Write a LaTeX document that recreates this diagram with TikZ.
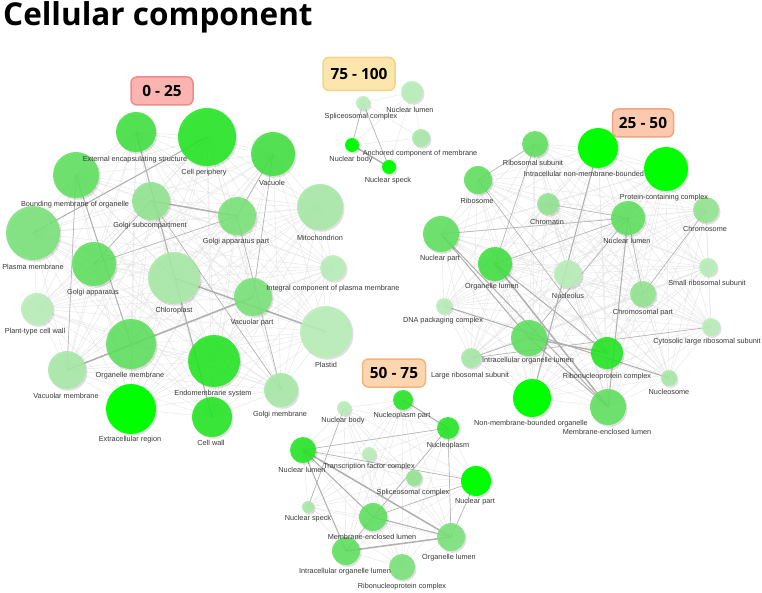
\documentclass[tikz,border=0pt]{standalone}
\usepackage{fontspec}
\setmainfont{Liberation Sans}
\newfontfamily\notosans{Open Sans}
\pgfdeclarelayer{bg}\pgfdeclarelayer{shad}\pgfdeclarelayer{fg}
\pgfsetlayers{bg,shad,main,fg}
\definecolor{gP}{HTML}{00FF00}
\definecolor{gA}{HTML}{22E622}
\definecolor{gB}{HTML}{40E040}
\definecolor{gC}{HTML}{5EE05E}
\definecolor{gD}{HTML}{78E278}
\definecolor{gE}{HTML}{90E590}
\definecolor{gF}{HTML}{A6E9A6}
\definecolor{gG}{HTML}{B8EEB8}
\definecolor{boxAf}{HTML}{FBB4B0}\definecolor{boxAd}{HTML}{F08C88}
\definecolor{boxBf}{HTML}{FDE6AE}\definecolor{boxBd}{HTML}{F4D38A}
\definecolor{boxCf}{HTML}{FCC8AE}\definecolor{boxCd}{HTML}{F4A47E}
\definecolor{boxDf}{HTML}{FDD6B0}\definecolor{boxDd}{HTML}{F4B47C}
\tikzset{
 gc/.style={circle, inner sep=0pt, draw=none, fill opacity=.88},
 gl/.style={inner sep=0pt, text=black!78, font=\fontsize{7.3}{8}\selectfont},
 e0/.style={draw=gray!22, line width=.35pt},
 e1/.style={draw=gray!60, line width=.6pt},
 e2/.style={draw=gray!62, line width=1pt},
 e3/.style={draw=gray!62, line width=1.5pt},
 rbox/.style={rounded corners=6pt, line width=1.5pt, inner sep=0pt, font=\notosans\bfseries\fontsize{15.4}{17}\selectfont},
}
\newcommand{\gnode}[8]{%
 \begin{pgfonlayer}{shad}\fill[black,opacity=.12] (#2+1.5,#3+1.8) circle[radius=#4];\end{pgfonlayer}
 \node[gc, minimum size={2*#4pt}, fill=#5] (#1) at (#2,#3) {};
 \begin{pgfonlayer}{fg}\node[gl] (#1-l) at (#6,#7) {#8};\end{pgfonlayer}}
\newcommand{\gnodeM}[8]{%
 \begin{pgfonlayer}{shad}\fill[black,opacity=.12] (#2+1.5,#3+1.8) circle[radius=#4];\end{pgfonlayer}
 \node[gc, minimum size={2*#4pt}, fill=#5] (#1) at (#2,#3) {};
 \node[gl] (#1-l) at (#6,#7) {#8};}
\newcommand{\mesh}[2]{%
 \begin{pgfonlayer}{bg}
 \foreach \i in {1,...,#2}{\foreach \j in {1,...,#2}{\ifnum\j>\i \draw[e0] (#1\i.center) -- (#1\j.center);\fi}}
 \end{pgfonlayer}}
\newcommand{\edg}[3]{\begin{pgfonlayer}{bg}\draw[#1] (#2.center) -- (#3.center);\end{pgfonlayer}}
\begin{document}
\begin{tikzpicture}[x=1pt,y=-1pt]
\useasboundingbox (0,0) rectangle (762,593);
\begin{pgfonlayer}{bg}\fill[white] (0,0) rectangle (762,593);\end{pgfonlayer}
\node[anchor=base west, inner sep=0pt, font=\notosans\bfseries\fontsize{31.5}{34}\selectfont] (title) at (3,26) {Cellular component};

% ---------- 0 - 25 ----------
\gnode{a1}{136}{132}{20}{gB}{135}{160}{External encapsulating structure}
\gnode{a2}{207}{137}{29}{gA}{204}{173}{Cell periphery}
\gnode{a3}{273}{154}{22}{gB}{272}{183}{Vacuole}
\gnode{a4}{76}{175}{23}{gC}{75}{205}{Bounding membrane of organelle}
\gnode{a5}{151}{201}{19}{gE}{150}{226}{Golgi subcompartment}
\gnode{a6}{33}{233}{27}{gD}{33}{267}{Plasma membrane}
\gnode{a7}{237}{216}{19}{gD}{236}{242}{Golgi apparatus part}
\gnode{a8}{320}{207}{23}{gF}{320}{238}{Mitochondrion}
\gnode{a9}{94}{264}{22}{gC}{93}{293}{Golgi apparatus}
\gnode{a10}{174}{278}{26}{gF}{174}{311}{Chloroplast}
\gnode{a11}{37}{309}{16}{gG}{35}{332}{Plant-type cell wall}
\gnode{a12}{131}{344}{25}{gC}{130}{376}{Organelle membrane}
\gnode{a13}{67}{370}{19}{gF}{66}{396}{Vacuolar membrane}
\gnode{a14}{131}{409}{25}{gP, fill opacity=1}{130}{440}{Extracellular region}
\gnode{a15}{333}{268}{13}{gG}{333}{289}{Integral component of plasma membrane}
\gnode{a16}{253}{297}{19}{gD}{252}{323}{Vacuolar part}
\gnode{a17}{326}{332}{26}{gG}{326}{365}{Plastid}
\gnode{a18}{214}{361}{26}{gA}{213}{394}{Endomembrane system}
\gnode{a19}{281}{390}{17}{gF}{280}{415}{Golgi membrane}
\gnode{a20}{212}{417}{20}{gA}{211}{443}{Cell wall}
\node[rbox, draw=boxAd, fill=boxAf, minimum width=62pt, minimum height=28pt] (boxA) at (162,91) {0 - 25};

% ---------- 75 - 100 ----------
\gnode{b1}{363}{103}{7}{gG}{361}{117}{Spliceosomal complex}
\gnode{b2}{412}{92}{11}{gG}{410}{110}{Nuclear lumen}
\gnode{b3}{421}{138}{9}{gF}{420}{154}{Anchored component of membrane}
\gnode{b4}{352}{145}{7}{gP, fill opacity=1}{351}{160}{Nuclear body}
\gnode{b5}{389}{167}{7}{gP, fill opacity=1}{388}{181}{Nuclear speck}
\node[rbox, draw=boxBd, fill=boxBf, minimum width=72pt, minimum height=33pt] (boxB) at (359,74) {75 - 100};

% ---------- 25 - 50 ----------
\gnode{c1}{535}{144}{13}{gC}{533}{163}{Ribosomal subunit}
\gnodeM{c2}{598}{148}{20}{gP, fill opacity=1}{600}{175}{Intracellular non-membrane-bounded organelle}
\gnode{c3}{666}{169}{22}{gP, fill opacity=1}{664}{198}{Protein-containing complex}
\gnode{c4}{478}{180}{14}{gC}{477}{201}{Ribosome}
\gnode{c5}{548}{204}{11}{gE}{547}{222}{Chromatin}
\gnode{c6}{628}{218}{17}{gC}{627}{241}{Nuclear lumen}
\gnode{c7}{706}{210}{13}{gE}{705}{229}{Chromosome}
\gnode{c8}{441}{234}{18}{gC}{440}{259}{Nuclear part}
\gnode{c9}{708}{267}{9}{gG}{707}{283}{Small ribosomal subunit}
\gnode{c10}{495}{264}{17}{gB}{492}{287}{Organelle lumen}
\gnode{c11}{568}{274}{14}{gG}{568}{296}{Nucleolus}
\gnode{c12}{643}{294}{13}{gE}{643}{313}{Chromosomal part}
\gnode{c13}{444}{306}{8}{gG}{443}{321}{DNA packaging complex}
\gnode{c14}{529}{338}{18}{gC}{528}{361}{Intracellular organelle lumen}
\gnode{c15}{711}{327}{9}{gG}{707}{342}{Cytosolic large ribosomal subunit}
\gnode{c16}{471}{358}{10}{gF}{470}{376}{Large ribosomal subunit}
\gnode{c17}{607}{353}{16}{gA}{607}{377}{Ribonucleoprotein complex}
\gnode{c18}{669}{378}{8}{gF}{669}{392}{Nucleosome}
\gnode{c19}{532}{398}{19}{gP, fill opacity=1}{531}{424}{Non-membrane-bounded organelle}
\gnode{c20}{608}{407}{18}{gC}{607}{432}{Membrane-enclosed lumen}
\node[rbox, draw=boxCd, fill=boxCf, minimum width=61pt, minimum height=28pt] (boxC) at (643,123) {25 - 50};

% ---------- 50 - 75 ----------
\gnode{d1}{344}{408}{7}{gG}{343}{421}{Nuclear body}
\gnode{d2}{403}{400}{10}{gA}{402}{416}{Nucleoplasm part}
\gnode{d3}{448}{428}{11}{gA}{448}{446}{Nucleoplasm}
\gnode{d4}{303}{450}{13}{gA}{302}{470}{Nuclear lumen}
\gnode{d5}{369}{454}{7}{gG}{369}{467}{Transcription factor complex}
\gnode{d6}{414}{478}{8}{gE}{413}{493}{Spliceosomal complex}
\gnode{d7}{476}{481}{15}{gP, fill opacity=1}{475}{502}{Nuclear part}
\gnode{d8}{308}{507}{6}{gF}{308}{519}{Nuclear speck}
\gnode{d9}{373}{517}{14}{gC}{372}{537}{Membrane-enclosed lumen}
\gnode{d10}{451}{537}{14}{gD}{449}{558}{Organelle lumen}
\gnode{d11}{346}{551}{14}{gC}{345}{572}{Intracellular organelle lumen}
\gnode{d12}{402}{567}{13}{gD}{402}{587}{Ribonucleoprotein complex}
\node[rbox, draw=boxDd, fill=boxDf, minimum width=63pt, minimum height=28pt] (boxD) at (394,373) {50 - 75};

% ---------- light mesh ----------
\mesh{a}{20}
\mesh{b}{5}
\mesh{c}{20}
\mesh{d}{12}

% ---------- stronger edges ----------
\edg{e2}{a1}{a20}
\edg{e2}{a2}{a6}
\edg{e2}{a4}{a12}
\edg{e3}{a5}{a7}
\edg{e1}{a5}{a9}
\edg{e1}{a5}{a19}
\edg{e1}{a7}{a19}
\edg{e1}{a3}{a16}
\edg{e1}{a3}{a7}
\edg{e3}{a10}{a17}
\edg{e3}{a13}{a16}
\edg{e1}{a4}{a13}
\edg{e1}{a9}{a7}

\edg{e1}{b1}{b4}
\edg{e1}{b1}{b5}
\edg{e3}{b4}{b5}

\edg{e1}{c1}{c4}
\edg{e1}{c1}{c10}
\edg{e1}{c4}{c17}
\edg{e2}{c2}{c19}
\edg{e1}{c8}{c6}
\edg{e2}{c8}{c14}
\edg{e2}{c8}{c20}
\edg{e1}{c10}{c6}
\edg{e3}{c10}{c20}
\edg{e2}{c10}{c17}
\edg{e2}{c13}{c18}
\edg{e3}{c14}{c17}
\edg{e2}{c14}{c20}
\edg{e1}{c7}{c12}
\edg{e1}{c6}{c12}
\edg{e2}{c6}{c20}
\edg{e1}{c6}{c14}
\edg{e1}{c15}{c16}
\edg{e1}{c16}{c14}
\edg{e1}{c5}{c6}

\edg{e1}{d4}{d3}
\edg{e1}{d4}{d7}
\edg{e3}{d4}{d10}
\edg{e2}{d4}{d9}
\edg{e2}{d4}{d11}
\edg{e2}{d2}{d3}
\edg{e1}{d1}{d8}
\edg{e1}{d3}{d9}
\edg{e1}{d3}{d10}
\edg{e1}{d7}{d9}
\edg{e1}{d7}{d10}
\edg{e2}{d9}{d10}
\edg{e1}{d9}{d11}
\edg{e3}{d11}{d10}
\end{tikzpicture}
\end{document}
